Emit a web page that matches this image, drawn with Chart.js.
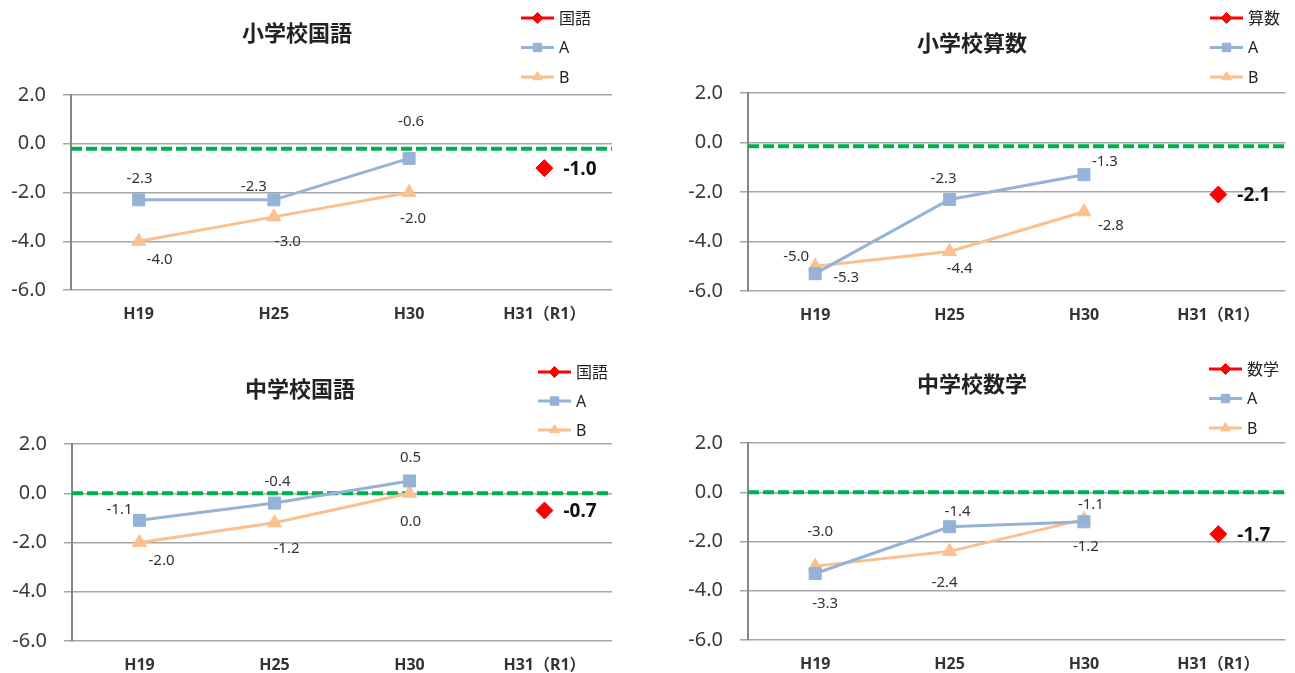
<!DOCTYPE html>
<html>
<head>
<meta charset="utf-8">
<script src="https://cdn.jsdelivr.net/npm/chart.js@4.4.1/dist/chart.umd.min.js"></script>
<style>
  body { margin: 0; background: #fff; width: 1295px; height: 673px; overflow: hidden; position: relative; }
  .panel { position: absolute; }
</style>
</head>
<body>
<div class="panel" style="left:0;top:0"><canvas id="shoKokugo" width="647" height="337"></canvas></div>
<div class="panel" style="left:647px;top:0"><canvas id="shoSansu" width="648" height="337"></canvas></div>
<div class="panel" style="left:0;top:337px"><canvas id="chuKokugo" width="647" height="336"></canvas></div>
<div class="panel" style="left:647px;top:337px"><canvas id="chuSugaku" width="648" height="336"></canvas></div>
<script>
const years = ["H19", "H25", "H30", "H31（R1）"];

// 小学校国語
const shoKokugoA = [-2.3, -2.3, -0.6, null];
const shoKokugoB = [-4.0, -3.0, -2.0, null];
const shoKokugoNow = [null, null, null, -1.0];
const shoKokugoZero = -0.2;

// 小学校算数
const shoSansuA = [-5.3, -2.3, -1.3, null];
const shoSansuB = [-5.0, -4.4, -2.8, null];
const shoSansuNow = [null, null, null, -2.1];
const shoSansuZero = -0.15;

// 中学校国語
const chuKokugoA = [-1.1, -0.4, 0.5, null];
const chuKokugoB = [-2.0, -1.2, 0.0, null];
const chuKokugoNow = [null, null, null, -0.7];
const chuKokugoZero = 0;

// 中学校数学
const chuSugakuA = [-3.3, -1.4, -1.2, null];
const chuSugakuB = [-3.0, -2.4, -1.1, null];
const chuSugakuNow = [null, null, null, -1.7];
const chuSugakuZero = 0;

const FONT = "'Noto Sans', 'Noto Sans CJK JP', sans-serif";

// titles, legend and value labels
const panelDeco = {
    id: "panelDeco",
    afterDatasetsDraw(chart, args, opts) {
        const ctx = chart.ctx;
        ctx.save();
        chart.data.datasets.forEach((ds, i) => {
            if (!ds.labelOffsets) return;
            const meta = chart.getDatasetMeta(i);
            meta.data.forEach((pt, j) => {
                const v = ds.data[j];
                const off = ds.labelOffsets[j];
                if (v === null || !off) return;
                if (ds.bigLabel) {
                    ctx.font = "bold 19px " + FONT;
                    ctx.fillStyle = "#111";
                    ctx.textAlign = "left";
                } else {
                    ctx.font = "15px " + FONT;
                    ctx.fillStyle = "#333";
                    ctx.textAlign = "center";
                }
                ctx.textBaseline = "middle";
                ctx.fillText(v.toFixed(1), pt.x + off[0], pt.y + off[1]);
            });
        });
        ctx.restore();
    },
    afterDraw(chart, args, opts) {
        const ctx = chart.ctx;
        ctx.save();
        // title
        ctx.font = "bold 22px " + FONT;
        ctx.fillStyle = "#222";
        ctx.textAlign = "center";
        ctx.textBaseline = "middle";
        ctx.fillText(opts.title, opts.titleX, opts.titleY);

        // legend: line with marker
        let y = opts.legendY;
        chart.data.datasets.forEach(ds => {
            if (ds.noLegend) return;
            const x0 = opts.legendX, x1 = x0 + 33;
            ctx.strokeStyle = ds.borderColor;
            ctx.lineWidth = 3;
            ctx.setLineDash([]);
            ctx.beginPath();
            ctx.moveTo(x0, y);
            ctx.lineTo(x1, y);
            ctx.stroke();
            ctx.fillStyle = ds.borderColor;
            ctx.lineWidth = 1;
            Chart.helpers.drawPoint(ctx, { pointStyle: ds.pointStyle, radius: ds.pointStyle === "rect" ? 6 : 5.5, rotation: 0, borderWidth: 1 }, (x0 + x1) / 2, y);
            ctx.font = "16px " + FONT;
            ctx.fillStyle = "#222";
            ctx.textAlign = "left";
            ctx.fillText(ds.label, x1 + 5, y + 1);
            y += opts.legendGap;
        });
        ctx.restore();
    }
};

function makePanel(id, p) {
    const datasets = [
        {
            label: p.subject, data: p.now, borderColor: "#FF0000", backgroundColor: "#FF0000",
            pointStyle: "rectRot", pointRadius: 8.5, pointBorderWidth: 1, showLine: false, order: 1,
            labelOffsets: [null, null, null, [19, 1]], bigLabel: true
        },
        {
            label: "A", data: p.a, borderColor: "#95B3D7", backgroundColor: "#95B3D7",
            pointStyle: "rect", pointRadius: 8.5, pointBorderWidth: 1, borderWidth: 3, order: 2,
            labelOffsets: p.aOff
        },
        {
            label: "B", data: p.b, borderColor: "#FAC090", backgroundColor: "#FAC090",
            pointStyle: "triangle", pointRadius: 8, pointBorderWidth: 1, borderWidth: 3, order: 3,
            labelOffsets: p.bOff
        },
        {
            data: [{ x: 0, y: p.zero }, { x: 1, y: p.zero }], xAxisID: "x2",
            borderColor: "#00B050", borderWidth: 4, borderDash: [11, 4], pointRadius: 0, order: 4,
            noLegend: true
        }
    ];

    return new Chart(document.getElementById(id), {
        type: "line",
        data: { labels: years, datasets: datasets },
        options: {
            responsive: false,
            animation: false,
            devicePixelRatio: 1,
            layout: { padding: { left: 0, right: p.right, top: p.top, bottom: 0 } },
            scales: {
                x: {
                    type: "category",
                    offset: true,
                    grid: { display: false, drawTicks: false },
                    border: { display: false },
                    ticks: { padding: 15, color: "#333", font: { family: FONT, size: 16, weight: "bold" } },
                    afterFit: s => { s.height = p.bottom; }
                },
                x2: { type: "linear", display: false, min: 0, max: 1 },
                y: {
                    min: -6, max: 2,
                    ticks: { stepSize: 2, padding: 17, color: "#3a3a3a", font: { family: FONT, size: 20 },
                        callback: v => v.toFixed(1) },
                    grid: { color: "#A6A6A6", lineWidth: 1.5, tickLength: 8 },
                    border: { color: "#868686", width: 2 },
                    afterFit: s => { s.width = p.left; }
                }
            },
            plugins: {
                legend: { display: false },
                tooltip: { enabled: false },
                panelDeco: p.deco
            }
        },
        plugins: [panelDeco]
    });
}

makePanel("shoKokugo", {
    subject: "国語", a: shoKokugoA, b: shoKokugoB, now: shoKokugoNow, zero: shoKokugoZero,
    aOff: [[1, -21], [-20, -13], [2, -37]], bOff: [[21, 18], [14, 25], [4, 26]],
    left: 71, right: 35, top: 95, bottom: 47,
    deco: { title: "小学校国語", titleX: 297, titleY: 35, legendX: 521, legendY: 18, legendGap: 29.5 }
});

makePanel("shoSansu", {
    subject: "算数", a: shoSansuA, b: shoSansuB, now: shoSansuNow, zero: shoSansuZero,
    aOff: [[31, 4], [-6, -21], [21, -13]], bOff: [[-19, -10], [10, 17], [27, 14]],
    left: 101, right: 5, top: 93, bottom: 46,
    deco: { title: "小学校算数", titleX: 325, titleY: 45, legendX: 563, legendY: 18, legendGap: 29.5 }
});

makePanel("chuKokugo", {
    subject: "国語", a: chuKokugoA, b: chuKokugoB, now: chuKokugoNow, zero: chuKokugoZero,
    aOff: [[-20, -11], [3, -21], [1, -23]], bOff: [[22, 18], [12, 26], [1, 28]],
    left: 72, right: 35, top: 107, bottom: 32,
    deco: { title: "中学校国語", titleX: 300, titleY: 54, legendX: 538, legendY: 35, legendGap: 29 }
});

makePanel("chuSugaku", {
    subject: "数学", a: chuSugakuA, b: chuSugakuB, now: chuSugakuNow, zero: chuSugakuZero,
    aOff: [[10, 30], [8, -15], [2, 25]], bOff: [[5, -34], [-5, 31], [7, -15]],
    left: 101, right: 5, top: 106, bottom: 33,
    deco: { title: "中学校数学", titleX: 325, titleY: 49, legendX: 562, legendY: 32, legendGap: 29.5 }
});
</script>
</body>
</html>
